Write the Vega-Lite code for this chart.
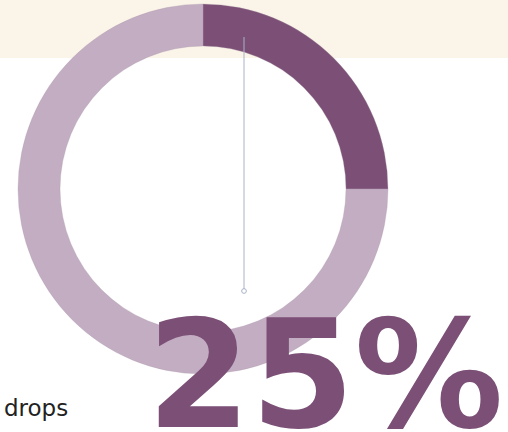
{
  "$schema": "https://vega.github.io/schema/vega-lite/v6.json",
  "width": 508,
  "height": 432,
  "autosize": {"type": "none"},
  "padding": 0,
  "background": "white",
  "config": {"view": {"stroke": null}},
  "datasets": {
    "band": [{"x": 0, "x2": 508, "y": 0, "y2": 58}],
    "donut": [
      {"seg": "drops", "v": 25, "cx": 203, "cy": 189},
      {"seg": "other", "v": 75, "cx": 203, "cy": 189}
    ],
    "leader": [{"x": 244, "y": 37, "y2": 291}],
    "labels": [
      {"t": "drops", "x": 4, "y": 416, "kind": "label"},
      {"t": "25%", "x": 147, "y": 427, "kind": "value"}
    ]
  },
  "resolve": {"scale": {"x": "shared", "y": "shared"}},
  "layer": [
    {
      "data": {"name": "band"},
      "mark": {"type": "rect", "color": "#fbf4e9"},
      "encoding": {
        "x": {"field": "x", "type": "quantitative", "scale": {"domain": [0, 508], "nice": false, "zero": false}, "axis": null},
        "x2": {"field": "x2"},
        "y": {"field": "y", "type": "quantitative", "scale": {"domain": [0, 432], "reverse": true, "nice": false, "zero": false}, "axis": null},
        "y2": {"field": "y2"}
      }
    },
    {
      "data": {"name": "donut"},
      "mark": {"type": "arc", "outerRadius": 185, "innerRadius": 143, "stroke": "#a99aa8", "strokeWidth": 0.3},
      "encoding": {
        "x": {"field": "cx", "type": "quantitative", "axis": null},
        "y": {"field": "cy", "type": "quantitative", "axis": null},
        "theta": {"field": "v", "type": "quantitative", "stack": true},
        "order": {"field": "seg"},
        "color": {"field": "seg", "type": "nominal", "scale": {"domain": ["drops", "other"], "range": ["#7b4f76", "#c3adc3"]}, "legend": null}
      }
    },
    {
      "data": {"name": "leader"},
      "mark": {"type": "rule", "color": "#aab2c8", "strokeWidth": 1},
      "encoding": {
        "x": {"field": "x", "type": "quantitative", "axis": null},
        "y": {"field": "y", "type": "quantitative", "axis": null},
        "y2": {"field": "y2"}
      }
    },
    {
      "data": {"name": "leader"},
      "mark": {"type": "point", "filled": true, "fill": "white", "stroke": "#aab2c8", "strokeWidth": 1, "size": 22, "opacity": 1},
      "encoding": {
        "x": {"field": "x", "type": "quantitative", "axis": null},
        "y": {"field": "y2", "type": "quantitative", "axis": null}
      }
    },
    {
      "data": {"name": "labels"},
      "transform": [{"filter": "datum.kind == 'label'"}],
      "mark": {"type": "text", "align": "left", "baseline": "alphabetic", "font": "DejaVu Sans", "fontSize": 23, "color": "#222222"},
      "encoding": {
        "x": {"field": "x", "type": "quantitative", "axis": null},
        "y": {"field": "y", "type": "quantitative", "axis": null},
        "text": {"field": "t"}
      }
    },
    {
      "data": {"name": "labels"},
      "transform": [{"filter": "datum.kind == 'value'"}],
      "mark": {"type": "text", "align": "left", "baseline": "alphabetic", "font": "DejaVu Sans", "fontWeight": "bold", "fontSize": 149, "color": "#7b4f76"},
      "encoding": {
        "x": {"field": "x", "type": "quantitative", "axis": null},
        "y": {"field": "y", "type": "quantitative", "axis": null},
        "text": {"field": "t"}
      }
    }
  ]
}
